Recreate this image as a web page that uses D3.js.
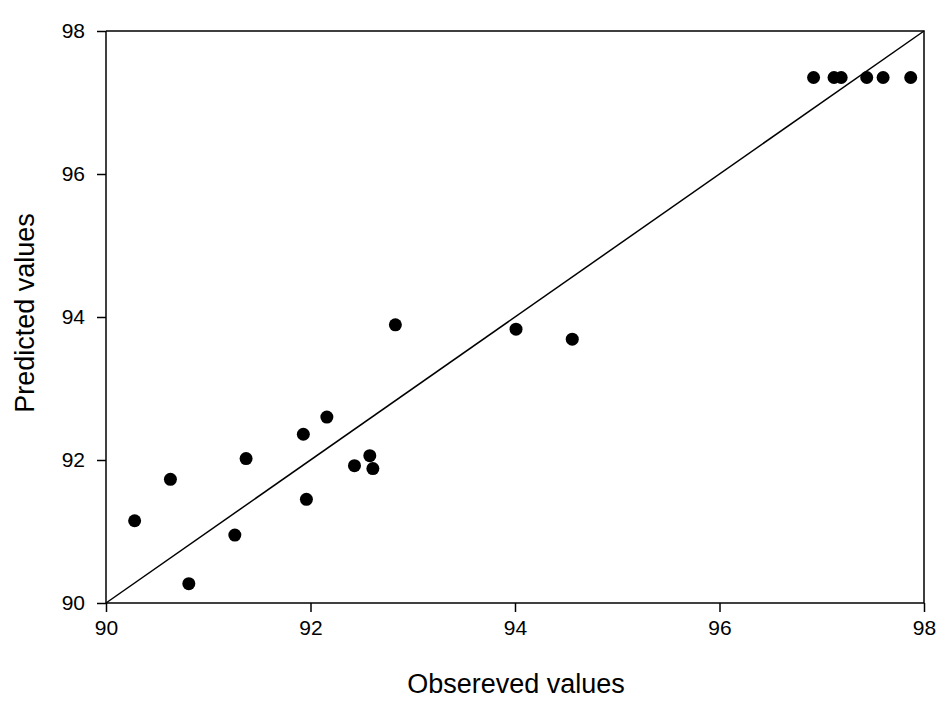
<!DOCTYPE html>
<html>
<head>
<meta charset="utf-8">
<script src="https://cdn.jsdelivr.net/npm/d3@7"></script>
<style>
  body { margin: 0; background: #fff; }
  svg { display: block; }
  text { font-family: "Liberation Sans", Arial, sans-serif; fill: #000; }
</style>
</head>
<body>
<svg id="chart" width="950" height="701"></svg>
<script>
const observed  = [90.28, 90.63, 90.81, 91.26, 91.37, 91.93, 91.96, 92.16, 92.43, 92.58, 92.61, 92.83, 94.01, 94.56, 96.92, 97.12, 97.19, 97.44, 97.60, 97.87];
const predicted = [91.15, 91.73, 90.27, 90.95, 92.02, 92.36, 91.45, 92.60, 91.92, 92.06, 91.88, 93.89, 93.83, 93.69, 97.35, 97.35, 97.35, 97.35, 97.35, 97.35];
const xTicks = [90, 92, 94, 96, 98];
const yTicks = [90, 92, 94, 96, 98];
const xLabel = "Obsereved values";
const yLabel = "Predicted values";

(function () {
const svg = d3.select("#chart");
const pL = 106, pR = 924, pT = 31, pB = 603;

const x = d3.scaleLinear().domain([90, 98]).range([pL, pR]);
const y = d3.scaleLinear().domain([90, 98]).range([pB, pT]);

svg.append("path")
  .attr("d", `M${pL},${pT}H${pR}V${pB}`)
  .attr("fill", "none").attr("stroke", "#000").attr("stroke-width", 1.5);

const xAxis = svg.append("g").attr("transform", `translate(0,${pB})`)
  .call(d3.axisBottom(x).tickValues(xTicks).tickSize(9).tickPadding(8).tickSizeOuter(0));
const yAxis = svg.append("g").attr("transform", `translate(${pL},0)`)
  .call(d3.axisLeft(y).tickValues(yTicks).tickSize(9).tickPadding(12).tickSizeOuter(0));

[xAxis, yAxis].forEach(a => {
  a.attr("font-size", 21).attr("font-family", "Liberation Sans, Arial, sans-serif");
  a.select(".domain").attr("stroke", "#000").attr("stroke-width", 1.5);
  a.selectAll(".tick line").attr("stroke", "#000").attr("stroke-width", 1.5);
  a.selectAll(".tick text").style("font-size", "21px").attr("fill", "#000");
});
xAxis.select(".domain").attr("d", `M${pL},0H${pR}`);
yAxis.select(".domain").attr("d", `M0,${pT}V${pB}`);

svg.append("line")
  .attr("x1", x(90)).attr("y1", y(90))
  .attr("x2", x(98)).attr("y2", y(98))
  .attr("stroke", "#000").attr("stroke-width", 1.5);

const data = observed.map((o, i) => ({ o, p: predicted[i] }));
svg.append("g").selectAll("circle").data(data).join("circle")
  .attr("cx", d => x(d.o)).attr("cy", d => y(d.p))
  .attr("r", 6.5).attr("fill", "#000");

svg.append("text")
  .attr("x", 516).attr("y", 693)
  .attr("text-anchor", "middle").style("font-size", "27px")
  .text(xLabel);
svg.append("text")
  .attr("transform", `translate(34,313) rotate(-90)`)
  .attr("text-anchor", "middle").style("font-size", "27px")
  .text(yLabel);
})();
</script>
</body>
</html>
